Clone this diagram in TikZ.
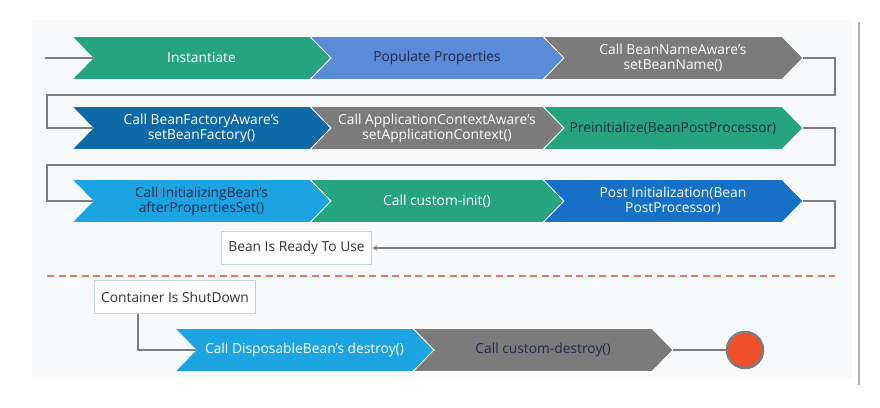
\documentclass[tikz,border=0pt]{standalone}
\usepackage{fontspec}
\setmainfont{Open Sans}
\usetikzlibrary{arrows.meta}
\definecolor{cgreen}{HTML}{26A37F}
\definecolor{cpop}{HTML}{5A8AD8}
\definecolor{cgray}{HTML}{7B7B7B}
\definecolor{cdblue}{HTML}{0E6AA6}
\definecolor{clblue}{HTML}{1BA3E2}
\definecolor{cpblue}{HTML}{1670C7}
\definecolor{cnavy}{HTML}{1E2A4A}
\definecolor{cline}{HTML}{7D7D7D}
\definecolor{cdash}{HTML}{E07A6A}
\definecolor{cbox}{HTML}{C5D6D6}
\definecolor{cend}{HTML}{F0502A}
\definecolor{cpanel}{HTML}{F7F9FA}
\tikzset{
  chevtext/.style={font=\fontsize{13.8}{15}\selectfont, align=center, inner sep=0pt},
  conn/.style={draw=cline, line width=1.8pt},
  labelbox/.style={draw=cbox, fill=white, line width=1.2pt, font=\fontsize{13.8}{15}\selectfont, text=black!80, inner xsep=7pt, inner ysep=0pt, minimum height=33pt},
}
\newcommand{\chev}[7]{%
  \fill[#5, draw=white, line width=0.8pt] (#2,#4-21.5) -- (#3,#4-21.5) -- (#3+21,#4) -- (#3,#4+21.5) -- (#2,#4+21.5) -- (#2+21,#4) -- cycle;
  \node[chevtext, text=#6] (#1) at ({(#2+#3)/2+10.5},#4) {#7};
  \coordinate (#1-in) at (#2+21,#4);
  \coordinate (#1-out) at (#3+21,#4);
}
\begin{document}
\begin{tikzpicture}[x=1pt,y=-1pt]
\useasboundingbox (0,0) rectangle (880,407);
\fill[cpanel] (32,20) rectangle (852,378);
% row 1
\chev{inst}{72}{310}{58}{cgreen}{white}{Instantiate}
\chev{pop}{310}{543}{58}{cpop}{cnavy}{Populate Properties}
\chev{bnn}{543}{782}{58}{cgray}{white}{Call BeanNameAware's\\setBeanName()}
% row 2
\chev{bfa}{72}{310}{128}{cdblue}{white}{Call BeanFactoryAware's\\setBeanFactory()}
\chev{aca}{310}{543}{128}{cgray}{white}{Call ApplicationContextAware's\\setApplicationContext()}
\chev{pre}{543}{782}{128}{cgreen}{cnavy}{Preinitialize(BeanPostProcessor)}
% row 3
\chev{ib}{72}{310}{201}{clblue}{cnavy}{Call InitializingBean's\\afterPropertiesSet()}
\chev{ci}{310}{543}{201}{cgreen}{white}{Call custom-init()}
\chev{pi}{543}{782}{201}{cpblue}{white}{Post Initialization(Bean\\PostProcessor)}
% row 4
\chev{db}{175}{413}{350}{clblue}{white}{Call DisposableBean's destroy()}
\chev{cd}{413}{652}{350}{cgray}{cnavy}{Call custom-destroy()}

\coordinate (start) at (45,58);
\coordinate (r1) at (835,95);
\coordinate (l1) at (47,95);
\coordinate (r2) at (835,165);
\coordinate (l2) at (47,165);
\coordinate (r3) at (835,248);
\coordinate (k) at (138,312);
\coordinate (dl) at (47,276);
\coordinate (dr) at (835,276);
\coordinate (vt) at (859,22);
\coordinate (vb) at (859,385);

\node[labelbox] (ready) at (296.5,248) {Bean Is Ready To Use};
\node[labelbox] (cont) at (175,297) {Container Is ShutDown};
\node[circle, fill=cend, draw=cline, line width=2.5pt, minimum size=36pt, inner sep=0pt] (end) at (745,350) {};

\draw[conn] (start) -- (inst-in);
\draw[conn] (bnn-out) -| (r1) -- (l1) |- (bfa-in);
\draw[conn] (pre-out) -| (r2) -- (l2) |- (ib-in);
\draw[conn, -{Stealth[length=5pt,width=5pt]}] (pi-out) -| (r3) -- (ready.east);
\draw[conn] (cont.south -| k) |- (db-in);
\draw[conn] (cd-out) -- (end);
\draw[cdash, line width=1.5pt, dash pattern=on 7pt off 4.5pt] (dl) -- (dr);
\draw[black!30, line width=1.2pt] (vt) -- (vb);
\end{tikzpicture}
\end{document}
